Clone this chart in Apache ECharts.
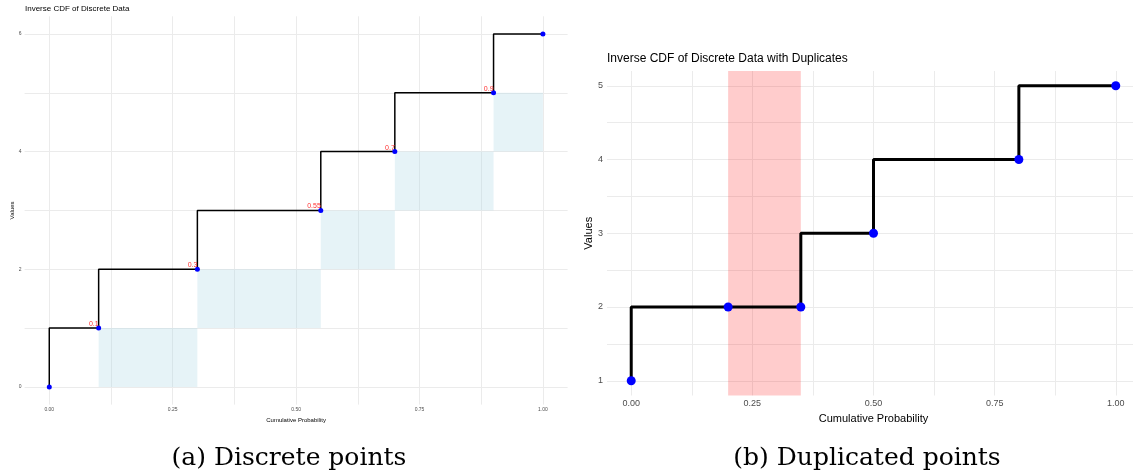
<!DOCTYPE html>
<html>
<head>
<meta charset="utf-8">
<script src="https://cdn.jsdelivr.net/npm/echarts@6/dist/echarts.min.js"></script>
<style>
  html, body { margin: 0; padding: 0; background: #fff; }
  #chart { width: 1133px; height: 475px; }
</style>
</head>
<body>
<div id="chart"></div>
<script>
// panel (a): discrete points
var probA = [0, 0.1, 0.3, 0.55, 0.7, 0.9, 1.0];
var valsA = [0, 1, 2, 3, 4, 5, 6];
var labelsA = ['', '0.1', '0.3', '0.55', '0.7', '0.9', ''];

// panel (b): duplicated points
var probB = [0, 0.2, 0.35, 0.5, 0.8, 1.0];
var valsB = [1, 2, 2, 3, 4, 5];
var highlightB = [0.2, 0.35];

// tick labels / grid lines
var xTicks = [0, 0.25, 0.5, 0.75, 1];
var xGrid = [0, 0.125, 0.25, 0.375, 0.5, 0.625, 0.75, 0.875, 1];
var yTicksA = [0, 2, 4, 6];
var yGridA = [0, 1, 2, 3, 4, 5, 6];
var yTicksB = [1, 2, 3, 4, 5];
var yGridB = [1, 1.5, 2, 2.5, 3, 3.5, 4, 4.5, 5];

var font = '"Liberation Sans", Arial, sans-serif';
var gridColor = '#ebebeb';

function zip(xs, ys) {
  return xs.map(function (x, i) { return [x, ys[i]]; });
}

// light blue boxes: between consecutive probabilities, one step below the value
var boxesA = [];
for (var i = 1; i < probA.length - 1; i++) {
  boxesA.push([
    { xAxis: probA[i], yAxis: valsA[i - 1] },
    { xAxis: probA[i + 1], yAxis: valsA[i] }
  ]);
}

function xAxisCfg(idx, fs, nameFs, nameGap, labelMargin) {
  return {
    gridIndex: idx, type: 'value', min: -0.05, max: 1.05,
    name: 'Cumulative Probability', nameLocation: 'middle', nameGap: nameGap,
    nameTextStyle: { fontFamily: font, fontSize: nameFs, color: '#000' },
    axisLine: { show: false },
    axisTick: { show: false, customValues: xGrid },
    axisLabel: {
      customValues: xTicks, fontFamily: font, fontSize: fs, color: '#4d4d4d', margin: labelMargin,
      formatter: function (v) { return v.toFixed(2); }
    },
    splitLine: { show: true, lineStyle: { color: gridColor, width: 1 } }
  };
}

function yAxisCfg(idx, min, max, ticks, gridVals, fs, nameFs, nameGap, labelMargin) {
  return {
    gridIndex: idx, type: 'value', min: min, max: max,
    name: 'Values', nameLocation: 'middle', nameGap: nameGap, nameRotate: 90,
    nameTextStyle: { fontFamily: font, fontSize: nameFs, color: '#000' },
    axisLine: { show: false },
    axisTick: { show: false, customValues: gridVals },
    axisLabel: { customValues: ticks, fontFamily: font, fontSize: fs, color: '#4d4d4d', margin: labelMargin },
    splitLine: { show: true, lineStyle: { color: gridColor, width: 1 } }
  };
}

var chart = echarts.init(document.getElementById('chart'));

chart.setOption({
  animation: false,
  backgroundColor: '#fff',
  title: [
    { text: 'Inverse CDF of Discrete Data', left: 25, top: 5, padding: 0,
      textStyle: { fontFamily: font, fontSize: 8, fontWeight: 'normal', color: '#000' } },
    { text: 'Inverse CDF of Discrete Data with Duplicates', left: 607, top: 53, padding: 0,
      textStyle: { fontFamily: font, fontSize: 12, fontWeight: 'normal', color: '#000' } }
  ],
  grid: [
    { left: 24.6, top: 16.3, width: 543, height: 388.3, outerBoundsMode: 'none' },
    { left: 607, top: 71, width: 533, height: 324.5, outerBoundsMode: 'none' }
  ],
  xAxis: [
    xAxisCfg(0, 5, 6, 10, 3),
    xAxisCfg(1, 9, 11, 13, 4)
  ],
  yAxis: [
    yAxisCfg(0, -0.3, 6.3, yTicksA, yGridA, 5, 6, 9, 3),
    yAxisCfg(1, 0.8, 5.2, yTicksB, yGridB, 9, 11, 12, 4)
  ],
  series: [
    {
      type: 'line', xAxisIndex: 0, yAxisIndex: 0, step: 'start',
      data: zip(probA, valsA), showSymbol: false, z: 3,
      lineStyle: { color: '#000', width: 1.5 },
      markArea: {
        silent: true,
        itemStyle: { color: 'rgba(173,216,230,0.3)' },
        data: boxesA
      }
    },
    {
      type: 'scatter', xAxisIndex: 0, yAxisIndex: 0, z: 4,
      data: zip(probA, valsA), symbolSize: 5,
      itemStyle: { color: '#0000ff', opacity: 1 },
      label: {
        show: true, position: 'top', align: 'right', distance: 0, offset: [0, 2],
        fontFamily: font, fontSize: 7, color: '#ff3030',
        formatter: function (p) { return labelsA[p.dataIndex]; }
      }
    },
    {
      type: 'line', xAxisIndex: 1, yAxisIndex: 1, step: 'start',
      data: zip(probB, valsB), showSymbol: false, z: 3,
      lineStyle: { color: '#000', width: 3 },
      markArea: {
        silent: true,
        itemStyle: { color: 'rgba(255,0,0,0.2)' },
        data: [[{ xAxis: highlightB[0] }, { xAxis: highlightB[1] }]]
      }
    },
    {
      type: 'scatter', xAxisIndex: 1, yAxisIndex: 1, z: 4,
      data: zip(probB, valsB), symbolSize: 9,
      itemStyle: { color: '#0000ff', opacity: 1 }
    }
  ],
  graphic: [
    { type: 'text', x: 289, y: 458, style: {
      text: '(a) Discrete points', align: 'center', verticalAlign: 'middle',
      font: '25px "DejaVu Serif", serif', fill: '#000' } },
    { type: 'text', x: 867, y: 458, style: {
      text: '(b) Duplicated points', align: 'center', verticalAlign: 'middle',
      font: '25px "DejaVu Serif", serif', fill: '#000' } }
  ]
});
</script>
</body>
</html>
